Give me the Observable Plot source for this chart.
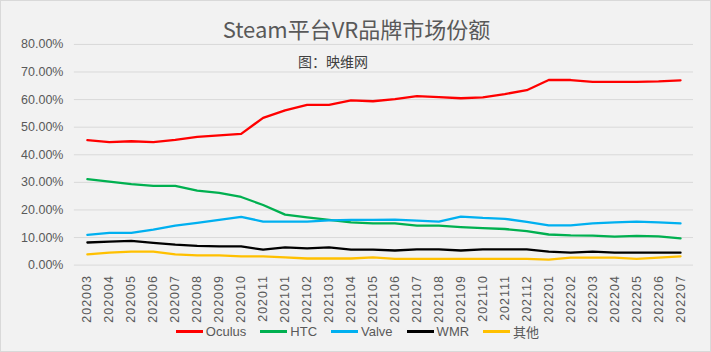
<!DOCTYPE html>
<html>
<head>
<meta charset="utf-8">
<script src="https://cdn.jsdelivr.net/npm/d3@7"></script>
<script src="https://cdn.jsdelivr.net/npm/@observablehq/plot@0.6"></script>
<style>
  html, body { margin: 0; padding: 0; background: #ffffff; }
  #wrap { position: relative; width: 711px; height: 352px; background: #f2f2f2; border: 1px solid #d9d9d9; box-sizing: border-box; overflow: hidden; font-family: "Liberation Sans", "Noto Sans CJK SC", sans-serif; color: #595959; }
  #title { position: absolute; left: 0; width: 711px; top: 12px; text-align: center; font-family: "Noto Sans CJK SC", sans-serif; font-size: 22px; color: #595959; line-height: 30px; }
  #subtitle { position: absolute; left: 0; width: 664px; top: 50px; text-align: center; font-family: "Noto Sans CJK SC", sans-serif; font-size: 14px; color: #404040; line-height: 20px; }
  #chart { position: absolute; left: -1px; top: -1px; }
  #legend { position: absolute; left: 0; width: 711px; top: 321px; display: flex; justify-content: center; align-items: center; gap: 14px; font-size: 13px; color: #595959; padding-left: 2px; box-sizing: border-box; }
  .item { display: flex; align-items: center; }
  .sw { width: 27px; height: 2.5px; margin-right: 3px; }
  .xax text { letter-spacing: 1px; }
</style>
</head>
<body>
<div id="wrap">
  <div id="chart"></div>
  <div id="title">Steam平台VR品牌市场份额</div>
  <div id="subtitle">图：映维网</div>
  <div id="legend"></div>
</div>
<script>
const months = ["202003","202004","202005","202006","202007","202008","202009","202010","202011",
  "202101","202102","202103","202104","202105","202106","202107","202108","202109","202110","202111","202112",
  "202201","202202","202203","202204","202205","202206","202207"];
const seriesNames = ["Oculus","HTC","Valve","WMR","其他"];
const seriesColors = ["#ff0000","#00b050","#00b0f0","#000000","#ffc000"];
const yTicks = [0,10,20,30,40,50,60,70,80];

const oculus = [45.3,44.6,44.9,44.6,45.4,46.5,47.0,47.6,53.4,56.1,58.1,58.1,59.7,59.4,60.2,61.3,60.9,60.5,60.8,62.0,63.4,67.1,67.1,66.4,66.4,66.4,66.6,67.0];
const htc    = [31.2,30.3,29.4,28.7,28.7,27.0,26.2,24.7,21.8,18.3,17.3,16.4,15.5,15.1,15.1,14.3,14.3,13.8,13.4,13.1,12.3,11.1,10.8,10.7,10.3,10.6,10.4,9.7];
const valve  = [11.0,11.7,11.7,12.9,14.3,15.3,16.4,17.5,15.8,15.8,15.8,16.2,16.4,16.4,16.5,16.1,15.8,17.6,17.1,16.8,15.7,14.4,14.4,15.1,15.5,15.8,15.5,15.1];
const wmr    = [8.2,8.5,8.8,8.1,7.4,7.0,6.8,6.8,5.6,6.4,6.1,6.4,5.6,5.6,5.3,5.7,5.7,5.3,5.7,5.7,5.7,4.9,4.5,4.9,4.5,4.5,4.5,4.5];
const others = [3.9,4.5,4.9,4.9,3.9,3.5,3.5,3.2,3.2,2.8,2.4,2.4,2.4,2.8,2.3,2.3,2.3,2.3,2.3,2.3,2.3,2.0,2.7,2.7,2.7,2.3,2.7,3.2];

const seriesValues = [oculus, htc, valve, wmr, others];
const data = [];
seriesNames.forEach((s, i) => {
  months.forEach((m, j) => data.push({series: s, month: m, value: seriesValues[i][j]}));
});

const chart = Plot.plot({
  width: 711,
  height: 352,
  marginTop: 44,
  marginBottom: 87,
  marginLeft: 74,
  marginRight: 17,
  style: {background: "transparent", fontFamily: "'Liberation Sans', 'Noto Sans CJK SC', sans-serif", fontSize: "12.5px", color: "#595959"},
  x: {type: "point", domain: months, padding: 0.5, label: null},
  y: {domain: [0, 80], label: null},
  color: {domain: seriesNames, range: seriesColors},
  marks: [
    Plot.gridY(yTicks, {stroke: "#d9d9d9", strokeOpacity: 1, strokeWidth: 1}),
    Plot.axisY(yTicks, {tickSize: 0, tickPadding: 11, tickFormat: d => d.toFixed(2) + "%", fill: "#595959", label: null}),
    Plot.axisX({tickRotate: -90, tickSize: 0, tickPadding: 10, fill: "#595959", label: null, className: "xax"}),
    Plot.line(data, {x: "month", y: "value", z: "series", stroke: "series", strokeWidth: 2.3})
  ]
});
document.getElementById("chart").appendChild(chart);

const legend = document.getElementById("legend");
seriesNames.forEach((s, i) => {
  const item = document.createElement("div");
  item.className = "item";
  const sw = document.createElement("div");
  sw.className = "sw";
  sw.style.background = seriesColors[i];
  const t = document.createElement("span");
  t.textContent = s;
  item.appendChild(sw);
  item.appendChild(t);
  legend.appendChild(item);
});
</script>
</body>
</html>
